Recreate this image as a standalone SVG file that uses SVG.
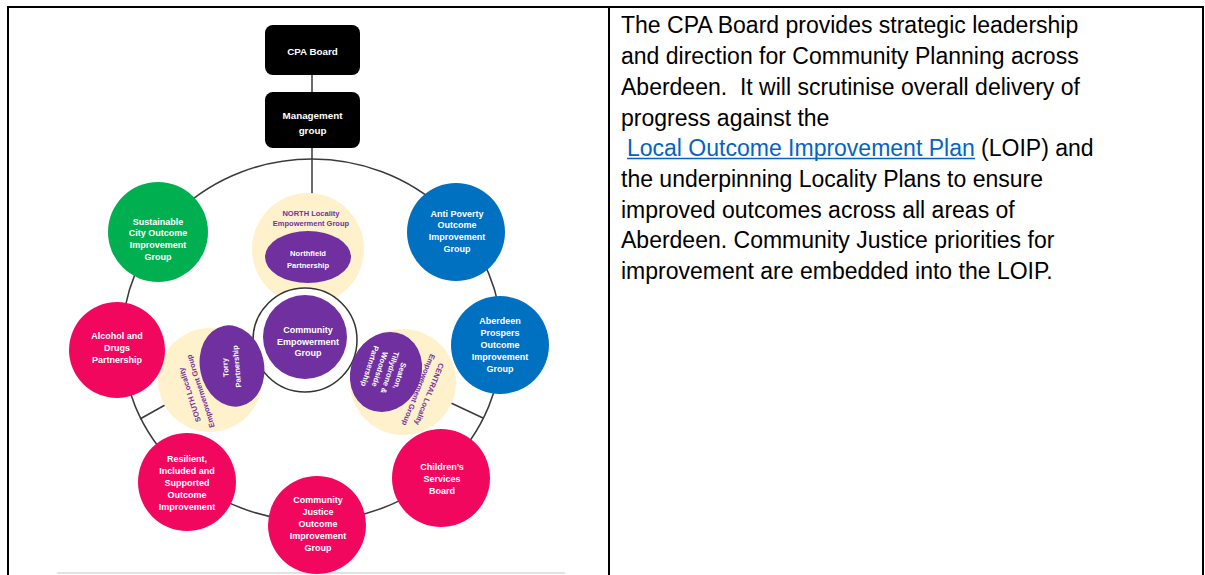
<svg xmlns="http://www.w3.org/2000/svg" width="1205" height="575" viewBox="0 0 1205 575">
  <style>
    .frame { stroke: #000; stroke-width: 2; fill: none; }
    .body { font-family: "Liberation Sans", Arial, sans-serif; font-size: 23px; fill: #000; }
    .link { fill: #0563C1; }
    .lbl { font-family: "Liberation Sans", Arial, sans-serif; font-weight: bold; font-size: 9px; fill: #fff; text-anchor: middle; }
    .big { font-size: 9.8px; }
    .small { font-size: 7.6px; }
    .plbl { font-family: "Liberation Sans", Arial, sans-serif; font-weight: bold; font-size: 7.5px; fill: #7030A0; text-anchor: middle; }
    .line { stroke: #3a3a3a; stroke-width: 1.5; fill: none; }
    .green { fill: #00B050; }
    .blue { fill: #0070C0; }
    .pink { fill: #F2075F; }
    .purple { fill: #7030A0; }
    .cream { fill: #FEF1CB; }
    .box { fill: #000; }
  </style>

  <!-- table frame -->
  <g id="frame">
    <line class="frame" x1="7" y1="7" x2="1204" y2="7"/>
    <line class="frame" x1="8" y1="7" x2="8" y2="575"/>
    <line class="frame" x1="609" y1="7" x2="609" y2="575"/>
    <line class="frame" x1="1203" y1="7" x2="1203" y2="575"/>
    <line x1="57" y1="573" x2="565" y2="573" stroke="#d8d8d8" stroke-width="1.5"/>
  </g>

  <!-- description text -->
  <g id="description">
    <text class="body" x="621" y="33">The CPA Board provides strategic leadership</text>
    <text class="body" x="621" y="64">and direction for Community Planning across</text>
    <text class="body" x="621" y="95" xml:space="preserve">Aberdeen.  It will scrutinise overall delivery of</text>
    <text class="body" x="621" y="125.5">progress against the</text>
    <text class="body" x="627" y="156"><tspan class="link">Local Outcome Improvement Plan</tspan> (LOIP) and</text>
    <line x1="627" y1="158.5" x2="975" y2="158.5" stroke="#0563C1" stroke-width="1.5"/>
    <text class="body" x="621" y="187">the underpinning Locality Plans to ensure</text>
    <text class="body" x="621" y="217.5">improved outcomes across all areas of</text>
    <text class="body" x="621" y="248">Aberdeen. Community Justice priorities for</text>
    <text class="body" x="621" y="279">improvement are embedded into the LOIP.</text>
  </g>

  <!-- connectors -->
  <g id="connectors">
    <ellipse class="line" cx="312" cy="340" rx="190" ry="181"/>
    <line class="line" x1="312" y1="75" x2="312" y2="92"/>
    <line class="line" x1="312" y1="148" x2="312" y2="195"/>
    <line class="line" x1="140" y1="419" x2="165" y2="405"/>
    <line class="line" x1="483" y1="418" x2="451" y2="403"/>
  </g>

  <!-- top of hierarchy -->
  <g id="cpa-board">
    <rect class="box" x="265" y="25" width="95" height="50" rx="8"/>
    <text class="lbl big" x="312.5" y="54.5">CPA Board</text>
  </g>
  <g id="management-group">
    <rect class="box" x="265" y="92" width="95" height="56" rx="8"/>
    <text class="lbl big" x="312.5" y="118.5">Management</text>
    <text class="lbl big" x="312.5" y="133.5">group</text>
  </g>

  <!-- locality empowerment groups -->
  <g id="north-locality">
    <circle class="cream" cx="308" cy="249" r="56"/>
    <text class="plbl" x="311" y="215.7">NORTH Locality</text>
    <text class="plbl" x="311" y="225.7">Empowerment Group</text>
  </g>
  <g id="south-locality">
    <circle class="cream" cx="210" cy="380" r="52"/>
    <g transform="translate(195,393) rotate(-108)">
      <text class="plbl" x="0" y="-3">SOUTH Locality</text>
      <text class="plbl" x="0" y="8.5">Empowerment Group</text>
    </g>
  </g>
  <g id="central-locality">
    <circle class="cream" cx="403" cy="382" r="53"/>
    <g transform="translate(424,392) rotate(112)">
      <text class="plbl" x="0" y="-3">CENTRAL Locality</text>
      <text class="plbl" x="0" y="8.5">Empowerment Group</text>
    </g>
  </g>

  <!-- community empowerment hub -->
  <g id="community-empowerment">
    <circle cx="305" cy="340" r="52" fill="#fff" stroke="#333" stroke-width="1.5"/>
    <circle class="purple" cx="305" cy="337" r="42"/>
    <text class="lbl" x="308" y="333">Community</text>
    <text class="lbl" x="308" y="344.7">Empowerment</text>
    <text class="lbl" x="308" y="356.4">Group</text>
  </g>

  <!-- locality partnerships -->
  <g id="northfield">
    <ellipse class="purple" cx="308" cy="257" rx="43" ry="26"/>
    <text class="lbl small" x="308" y="255.7">Northfield</text>
    <text class="lbl small" x="308" y="267.7">Partnership</text>
  </g>
  <g id="torry">
    <ellipse class="purple" cx="232" cy="366" rx="32" ry="41" transform="rotate(-12 232 366)"/>
    <g transform="translate(231,367) rotate(-95)">
      <text class="lbl small" x="0" y="-3">Torry</text>
      <text class="lbl small" x="0" y="8.5">Partnership</text>
    </g>
  </g>
  <g id="seaton-tillydrone-woodside">
    <ellipse class="purple" cx="386" cy="372" rx="35" ry="41" transform="rotate(25 386 372)"/>
    <g transform="translate(385,371) rotate(108)">
      <text class="lbl small" x="0" y="-13">Seaton,</text>
      <text class="lbl small" x="0" y="-2.5">Tillydrone &amp;</text>
      <text class="lbl small" x="0" y="8">Woodside</text>
      <text class="lbl small" x="0" y="18.5">Partnership</text>
    </g>
  </g>

  <!-- outcome improvement groups on the ring -->
  <g id="sustainable-city">
    <circle class="green" cx="158" cy="232" r="50"/>
    <text class="lbl" x="158" y="224.7">Sustainable</text>
    <text class="lbl" x="158" y="236.4">City Outcome</text>
    <text class="lbl" x="158" y="248.1">Improvement</text>
    <text class="lbl" x="158" y="259.8">Group</text>
  </g>
  <g id="anti-poverty">
    <circle class="blue" cx="456" cy="232" r="49"/>
    <text class="lbl" x="457" y="216.5">Anti Poverty</text>
    <text class="lbl" x="457" y="228.2">Outcome</text>
    <text class="lbl" x="457" y="239.9">Improvement</text>
    <text class="lbl" x="457" y="251.6">Group</text>
  </g>
  <g id="alcohol-drugs">
    <circle class="pink" cx="117" cy="350" r="48"/>
    <text class="lbl" x="117" y="338.5">Alcohol and</text>
    <text class="lbl" x="117" y="350.5">Drugs</text>
    <text class="lbl" x="117" y="362.5">Partnership</text>
  </g>
  <g id="aberdeen-prospers">
    <circle class="blue" cx="500" cy="345" r="49"/>
    <text class="lbl" x="500" y="324">Aberdeen</text>
    <text class="lbl" x="500" y="336">Prospers</text>
    <text class="lbl" x="500" y="348">Outcome</text>
    <text class="lbl" x="500" y="360">Improvement</text>
    <text class="lbl" x="500" y="372">Group</text>
  </g>
  <g id="resilient-included-supported">
    <circle class="pink" cx="187" cy="482" r="49"/>
    <text class="lbl" x="187" y="461.5">Resilient,</text>
    <text class="lbl" x="187" y="473.5">Included and</text>
    <text class="lbl" x="187" y="485.5">Supported</text>
    <text class="lbl" x="187" y="497.5">Outcome</text>
    <text class="lbl" x="187" y="509.5">Improvement</text>
  </g>
  <g id="community-justice">
    <circle class="pink" cx="317" cy="525" r="49"/>
    <text class="lbl" x="318" y="502.5">Community</text>
    <text class="lbl" x="318" y="514.5">Justice</text>
    <text class="lbl" x="318" y="526.5">Outcome</text>
    <text class="lbl" x="318" y="538.5">Improvement</text>
    <text class="lbl" x="318" y="550.5">Group</text>
  </g>
  <g id="childrens-services">
    <circle class="pink" cx="441" cy="478" r="49"/>
    <text class="lbl" x="442" y="469.5">Children’s</text>
    <text class="lbl" x="442" y="481.5">Services</text>
    <text class="lbl" x="442" y="493.5">Board</text>
  </g>
</svg>
